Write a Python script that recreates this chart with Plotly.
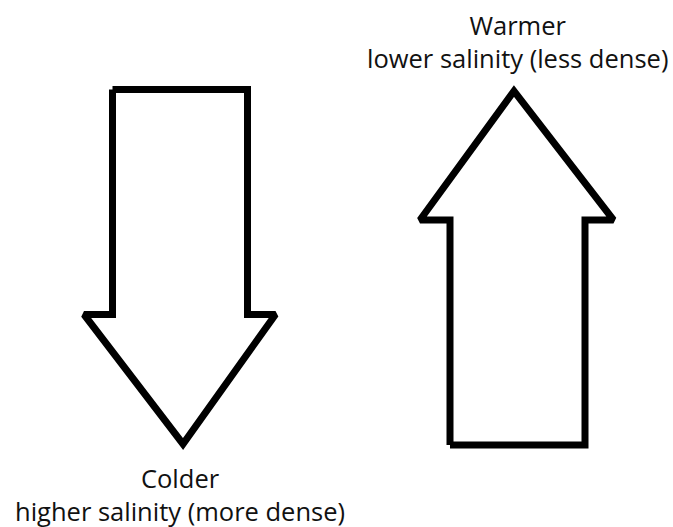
import plotly.graph_objects as go

# Arrow outlines (diagram units: x to the right, y downward)
down_x = [112.5, 247.5, 247.5, 275.5, 183, 84, 112.5, 112.5]
down_y = [89.5, 89.5, 314.5, 314.5, 444, 314.5, 314.5, 89.5]
up_x = [450, 585, 585, 613.5, 514, 420, 450, 450]
up_y = [445, 445, 220, 220, 91, 220, 220, 445]

# Labels (two lines each)
label_x = [517, 179.5]
label_y = [41, 494]
label_text = ["Warmer<br>lower salinity (less dense)", "Colder<br>higher salinity (more dense)"]

fig = go.Figure()
for xs, ys in [(down_x, down_y), (up_x, up_y)]:
    fig.add_trace(go.Scatter(x=xs, y=ys, mode="lines", fill="toself",
                             fillcolor="white",
                             line=dict(color="black", width=7),
                             hoverinfo="skip", showlegend=False))

for tx, ty, t in zip(label_x, label_y, label_text):
    fig.add_annotation(x=tx, y=ty, text=t, showarrow=False, xanchor="center",
                       yanchor="middle", align="center",
                       font=dict(family="Open Sans", size=25.5, color="#111111"))

fig.update_xaxes(range=[0, 673], visible=False, fixedrange=True)
fig.update_yaxes(range=[527, 0], visible=False, fixedrange=True)
fig.update_layout(width=673, height=527, margin=dict(l=0, r=0, t=0, b=0),
                  plot_bgcolor="white", paper_bgcolor="white")
fig.write_html("out.html", config={"displayModeBar": False},
               post_script="document.body.style.margin='0';document.body.style.overflow='hidden';")
